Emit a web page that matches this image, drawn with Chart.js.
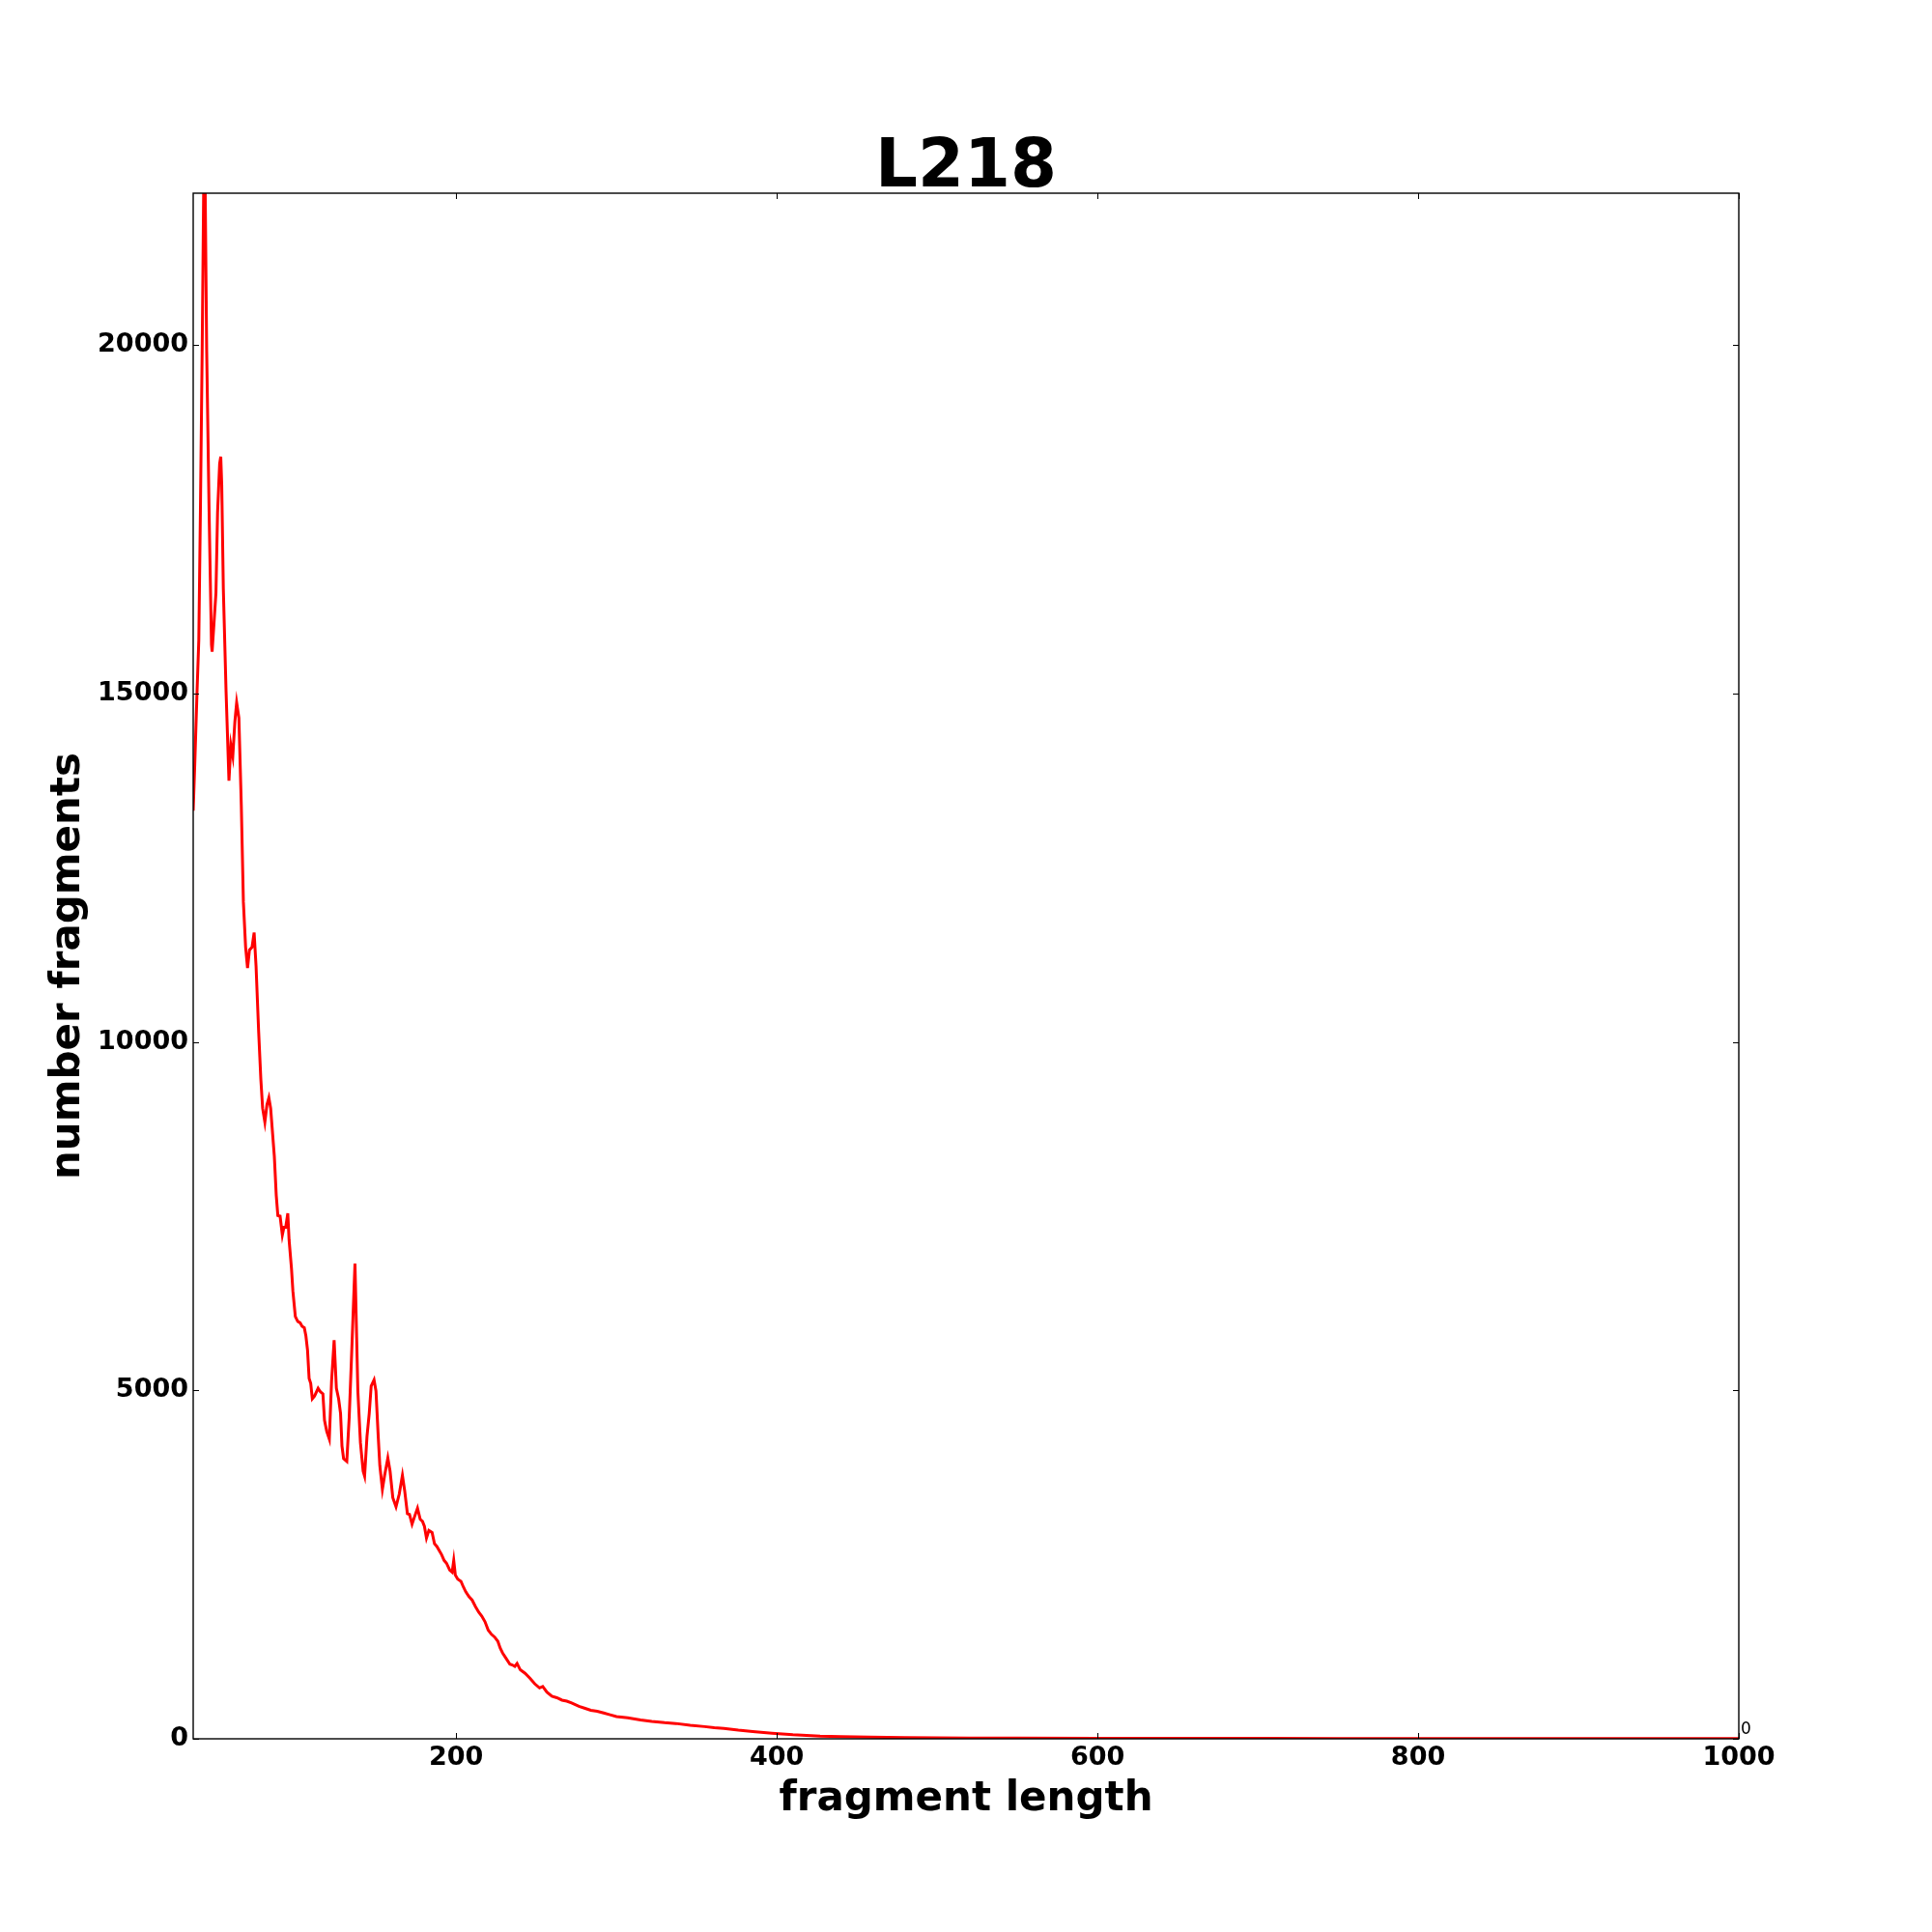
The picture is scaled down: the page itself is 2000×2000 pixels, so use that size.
<!DOCTYPE html>
<html lang="en">
<head>
    <meta charset="UTF-8">
    <title>L218</title>
    <script src="https://cdn.jsdelivr.net/npm/chart.js"></script>
    <style>
        body { margin: 0; background: #fff; }
        canvas { display: block; }
    </style>
</head>
<body>
    <canvas id="fragChart" width="2000" height="2000"></canvas>

    <script>
        // values
        const lengths = [
            36, 37, 38.4, 39.5, 40.5, 41.6, 42.5, 43.5, 44.4, 45.9, 47.4, 47.8, 48.8, 50.2, 51.2, 52.5, 53.2, 53.8, 54.8, 56.5,
            58.3, 59.5, 60.7, 62, 63.1, 64.5, 66, 67.3, 68.7, 69.9, 71.1, 72.7, 74, 75.2, 76.8, 78.2, 79.3, 80.7, 82, 83.2,
            84.3, 86.6, 87.8, 88.8, 90.2, 91.6, 92.6, 93.7, 95, 95.8, 97.3, 98.2, 99.7, 101.2, 102.7, 103.9, 105.3, 106.3, 107.3, 108.3,
            109.3, 110.3, 111.7, 113.9, 115.3, 116.9, 117.9, 119.3, 120.9, 122.3, 123.9, 125.3, 126.7, 127.9, 128.8, 129.8, 131.8, 133.3, 134.7, 136.9,
            138.7, 140.3, 142, 142.9, 144.4, 145.8, 147, 148.8, 150, 151.4, 152.4, 154, 155.4, 157.4, 158.8, 160.5, 162.5, 164.5, 166.5, 167.9,
            169.6, 170.9, 172.5, 174.1, 175.9, 177.6, 179, 180.2, 181.5, 183, 185, 186.5, 188, 189.5, 191, 192.5, 194, 196, 197.5, 198.5,
            199.5, 201, 203, 204.5, 206, 208, 210, 212, 214, 216, 218, 220, 222, 224, 226, 227.5, 229, 231, 233.5, 235,
            236.6, 238, 240, 243, 246, 249, 252, 254, 256.6, 259.7, 262.8, 266, 269, 272, 276.6, 280, 284, 288, 292, 296,
            300, 307, 315, 322, 330, 337, 346, 355, 361, 367, 376, 385, 397, 410, 427, 440, 458, 480, 500, 520,
            550, 600, 650, 700, 750, 800, 850, 900, 950, 1000
        ];
        const counts = [
            13320, 14000, 15030, 15770, 17630, 19930, 22170, 22170, 19930, 17630, 15700, 15600, 15950, 16450, 17600, 18300, 18400, 18000, 16500, 15030,
            13750, 14260, 14100, 14600, 14870, 14650, 13400, 12010, 11360, 11060, 11320, 11360, 11570, 11090, 10160, 9460, 9050, 8850, 9100, 9200,
            9050, 8360, 7800, 7510, 7500, 7230, 7340, 7340, 7540, 7160, 6750, 6420, 6060, 5990, 5970, 5920, 5900, 5780, 5580, 5170,
            5100, 4880, 4920, 5030, 4980, 4950, 4570, 4410, 4300, 5130, 5720, 5030, 4880, 4670, 4200, 4020, 3980, 4610, 5450, 6820,
            4990, 4250, 3840, 3770, 4340, 4670, 5060, 5150, 4990, 4340, 3920, 3580, 3780, 4030, 3840, 3460, 3330, 3510, 3780, 3560,
            3230, 3220, 3080, 3190, 3310, 3150, 3120, 3050, 2880, 2990, 2960, 2800, 2760, 2700, 2640, 2560, 2520, 2420, 2390, 2560,
            2350, 2290, 2260, 2180, 2110, 2040, 1990, 1900, 1820, 1760, 1680, 1560, 1500, 1460, 1400, 1300, 1230, 1160, 1070, 1060,
            1040, 1080, 990, 940, 870, 790, 730, 750, 670, 610, 590, 555, 540, 515, 465, 440, 410, 395, 370, 345,
            320, 300, 270, 250, 232, 220, 195, 175, 160, 150, 124, 105, 80, 58, 38, 30, 23, 18, 15, 12,
            10, 8, 7, 6, 5, 5, 4, 4, 3, 3
        ];

        const xTicks = [200, 400, 600, 800, 1000];
        const yTicks = [0, 5000, 10000, 15000, 20000];
        const xRange = [36, 1000];
        const yRange = [0, 22180];

        const chartTitle = 'L218';
        const xLabel = 'fragment length';
        const yLabel = 'number fragments';
        const cornerText = '0';

        const FONT = "'DejaVu Sans', sans-serif";

        // box, inward ticks on all four sides, title and the little corner label
        const framePlugin = {
            id: 'frame',
            afterDraw(chart) {
                const { ctx, chartArea: a, scales } = chart;
                ctx.save();
                ctx.strokeStyle = '#000';
                ctx.lineWidth = 1;
                const tl = 6;
                scales.x.ticks.forEach(t => {
                    const px = Math.round(scales.x.getPixelForValue(t.value)) + 0.5;
                    ctx.beginPath();
                    ctx.moveTo(px, a.bottom); ctx.lineTo(px, a.bottom - tl);
                    ctx.moveTo(px, a.top); ctx.lineTo(px, a.top + tl);
                    ctx.stroke();
                });
                scales.y.ticks.forEach(t => {
                    const py = Math.round(scales.y.getPixelForValue(t.value)) + 0.5;
                    ctx.beginPath();
                    ctx.moveTo(a.left, py); ctx.lineTo(a.left + tl, py);
                    ctx.moveTo(a.right, py); ctx.lineTo(a.right - tl, py);
                    ctx.stroke();
                });
                ctx.lineWidth = 1.4;
                ctx.strokeRect(a.left, a.top, a.right - a.left, a.bottom - a.top);

                ctx.fillStyle = '#000';
                ctx.textAlign = 'center';
                ctx.textBaseline = 'alphabetic';
                ctx.font = `bold 69px ${FONT}`;
                ctx.fillText(chartTitle, (a.left + a.right) / 2, a.top - 7);

                ctx.textAlign = 'left';
                ctx.font = `17px ${FONT}`;
                ctx.fillText(cornerText, a.right + 2, a.bottom - 5);
                ctx.restore();
            }
        };

        const tickFont = { family: FONT, size: 27, weight: 'bold', lineHeight: 1.2 };
        const labelFont = { family: FONT, size: 42, weight: 'bold', lineHeight: 1 };

        new Chart(document.getElementById('fragChart'), {
            type: 'line',
            data: {
                datasets: [{
                    data: lengths.map((x, i) => ({ x: x, y: counts[i] })),
                    borderColor: '#ff0000',
                    borderWidth: 3,
                    pointRadius: 0,
                    tension: 0,
                    fill: false,
                    clip: 0
                }]
            },
            options: {
                responsive: false,
                animation: false,
                devicePixelRatio: 1,
                layout: { padding: { top: 200, right: 200, left: 0, bottom: 0 } },
                plugins: {
                    legend: { display: false },
                    tooltip: { enabled: false },
                    title: { display: false }
                },
                scales: {
                    x: {
                        type: 'linear',
                        min: xRange[0],
                        max: xRange[1],
                        grid: { display: false, drawTicks: false },
                        border: { display: false },
                        afterFit: s => { s.height = 200; },
                        afterBuildTicks: s => { s.ticks = xTicks.map(v => ({ value: v })); },
                        ticks: {
                            padding: 4,
                            color: '#000',
                            font: tickFont,
                            maxRotation: 0,
                            autoSkip: false,
                            callback: v => String(v)
                        },
                        title: {
                            display: true,
                            text: xLabel,
                            color: '#000',
                            font: labelFont,
                            padding: { top: 0, bottom: 116 }
                        }
                    },
                    y: {
                        type: 'linear',
                        min: yRange[0],
                        max: yRange[1],
                        grid: { display: false, drawTicks: false },
                        border: { display: false },
                        afterFit: s => { s.width = 200; },
                        afterBuildTicks: s => { s.ticks = yTicks.map(v => ({ value: v })); },
                        ticks: {
                            padding: 5,
                            color: '#000',
                            font: tickFont,
                            autoSkip: false,
                            callback: v => String(v)
                        },
                        title: {
                            display: true,
                            text: yLabel,
                            color: '#000',
                            font: labelFont,
                            padding: { top: 50, bottom: 0 }
                        }
                    }
                }
            },
            plugins: [framePlugin]
        });
    </script>
</body>
</html>
